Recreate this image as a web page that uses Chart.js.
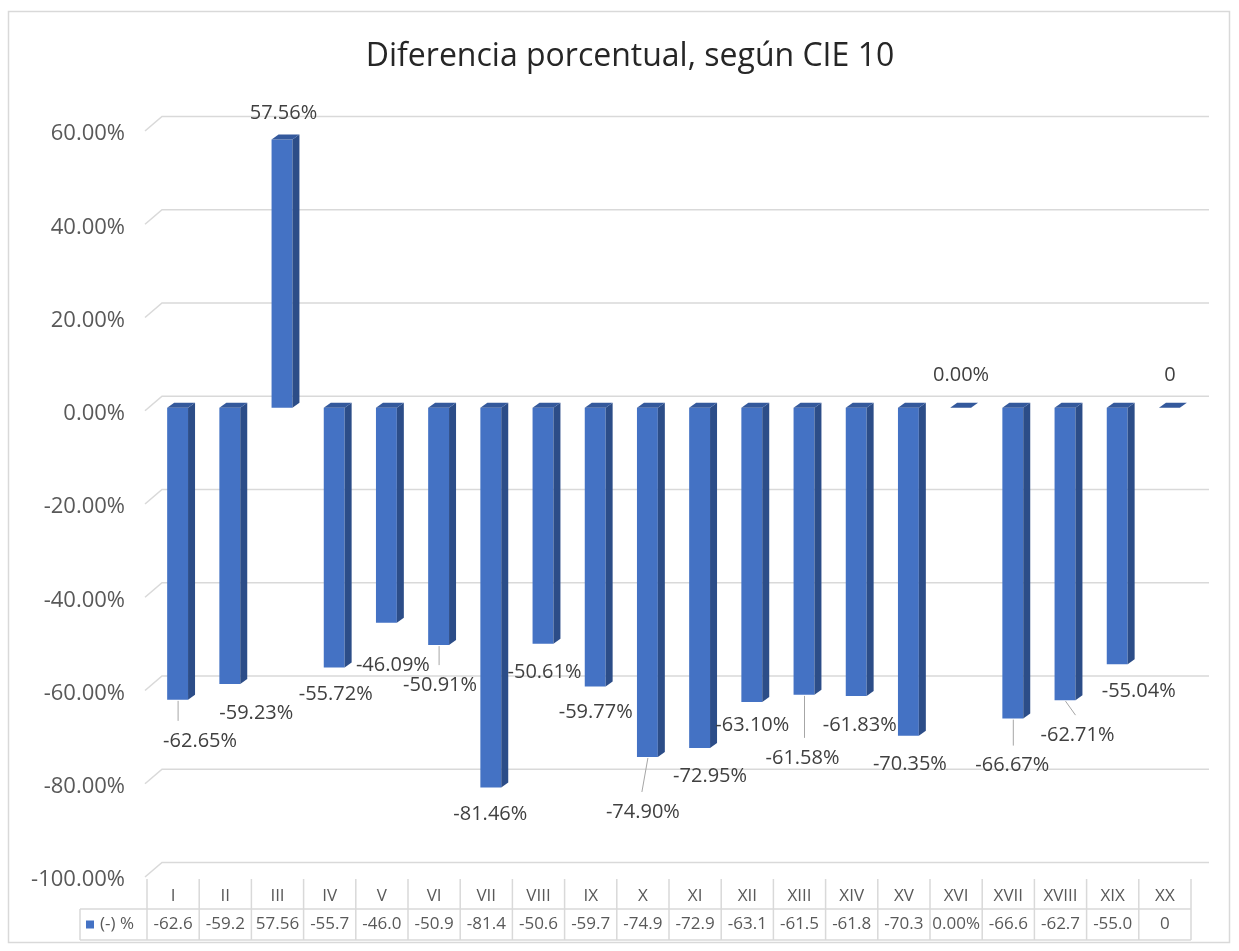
<!DOCTYPE html>
<html>
<head>
<meta charset="utf-8">
<script src="https://cdn.jsdelivr.net/npm/chart.js@4.4.1/dist/chart.umd.min.js"></script>
<style>
  html, body { margin: 0; padding: 0; background: #fff; }
</style>
</head>
<body>
<canvas id="cieChart" width="1239" height="951"></canvas>
<script>
// datos
const categorias = ["I", "II", "III", "IV", "V", "VI", "VII", "VIII", "IX", "X",
                    "XI", "XII", "XIII", "XIV", "XV", "XVI", "XVII", "XVIII", "XIX", "XX"];
const valores = [-62.65, -59.23, 57.56, -55.72, -46.09, -50.91, -81.46, -50.61, -59.77, -74.90,
                 -72.95, -63.10, -61.58, -61.83, -70.35, 0, -66.67, -62.71, -55.04, 0];
const etiquetas = ["-62.65%", "-59.23%", "57.56%", "-55.72%", "-46.09%", "-50.91%", "-81.46%", "-50.61%", "-59.77%", "-74.90%",
                   "-72.95%", "-63.10%", "-61.58%", "-61.83%", "-70.35%", "0.00%", "-66.67%", "-62.71%", "-55.04%", "0"];
const valoresTabla = ["-62.6", "-59.2", "57.56", "-55.7", "-46.0", "-50.9", "-81.4", "-50.6", "-59.7", "-74.9",
                      "-72.9", "-63.1", "-61.5", "-61.8", "-70.3", "0.00%", "-66.6", "-62.7", "-55.0", "0"];
const nombreSerie = "(-) %";
const titulo = "Diferencia porcentual, según CIE 10";

// colocacion de las etiquetas (desplazamiento respecto a la barra) y lineas guia
const posEtiquetas = [
    [27, 38, 0], [31, 26, null], [6, -29, null], [6, 24, null], [11, 40, null],
    [6, 37, 0], [4, 24, null], [6, 26, null], [5, 23, null], [0, 52, -6],
    [15, 25, null], [5, 20, null], [3, 60, 0], [8, 26, null], [6, 26, null],
    [5, -35, null], [4, 44, 0], [17, 32, 10], [26, 24, null], [5, -35, null]
];

const fuente = "'Open Sans', 'DejaVu Sans', sans-serif";
const gris = "#d9d9d9";
const prof = { dx: 7, dy: 5 };       // profundidad de cada barra
const pared = { dx: 17, dy: 14.5 };  // profundidad del fondo

const efecto3d = {
    id: "efecto3d",
    beforeDraw(chart) {
        const ctx = chart.ctx;
        ctx.save();
        ctx.fillStyle = "#fff";
        ctx.fillRect(0, 0, chart.width, chart.height);
        ctx.strokeStyle = gris;
        ctx.lineWidth = 1.5;
        ctx.strokeRect(8.5, 11.5, 1221, 931);
        // titulo
        ctx.font = "32px " + fuente;
        ctx.fillStyle = "#262626";
        ctx.textAlign = "center";
        ctx.textBaseline = "middle";
        ctx.fillText(titulo, 630, 57);
        ctx.restore();
    },
    beforeDatasetsDraw(chart) {
        const ctx = chart.ctx;
        const area = chart.chartArea;
        const y = chart.scales.y;
        ctx.save();
        ctx.strokeStyle = gris;
        ctx.lineWidth = 1.5;
        y.ticks.forEach(t => {
            const yf = y.getPixelForValue(t.value);
            ctx.beginPath();
            ctx.moveTo(area.left - 2, yf);
            ctx.lineTo(area.left - 2 + pared.dx, yf - pared.dy);
            ctx.lineTo(area.right + 18, yf - pared.dy);
            ctx.stroke();
        });
        ctx.restore();
        // las barras quedan a media profundidad
        ctx.save();
        ctx.translate(4.5, -3);
    },
    afterDatasetsDraw(chart) {
        const ctx = chart.ctx;
        const meta = chart.getDatasetMeta(0);
        meta.data.forEach(bar => {
            const p = bar.getProps(["x", "y", "base", "width"], true);
            const izq = p.x - p.width / 2, der = p.x + p.width / 2;
            const arriba = Math.min(p.y, p.base), abajo = Math.max(p.y, p.base);
            // cara lateral
            ctx.fillStyle = "#2c4d88";
            ctx.beginPath();
            ctx.moveTo(der, arriba);
            ctx.lineTo(der + prof.dx, arriba - prof.dy);
            ctx.lineTo(der + prof.dx, abajo - prof.dy);
            ctx.lineTo(der, abajo);
            ctx.closePath();
            ctx.fill();
            // cara superior
            ctx.fillStyle = "#34599c";
            ctx.beginPath();
            ctx.moveTo(izq, arriba);
            ctx.lineTo(izq + prof.dx, arriba - prof.dy);
            ctx.lineTo(der + prof.dx, arriba - prof.dy);
            ctx.lineTo(der, arriba);
            ctx.closePath();
            ctx.fill();
        });
        ctx.restore();

        // etiquetas de datos
        const x = chart.scales.x, y = chart.scales.y;
        ctx.save();
        ctx.font = "20px " + fuente;
        ctx.fillStyle = "#404040";
        ctx.textAlign = "center";
        ctx.textBaseline = "middle";
        valores.forEach((v, i) => {
            const cx = x.getPixelForValue(i);
            const py = y.getPixelForValue(v);
            const [dx, dy, guia] = posEtiquetas[i];
            const lx = cx + dx, ly = py + dy;
            if (guia !== null) {
                const sx = cx + 5;
                ctx.strokeStyle = "#a6a6a6";
                ctx.lineWidth = 1;
                ctx.beginPath();
                ctx.moveTo(sx, py - 2);
                ctx.lineTo(sx + guia, ly - 20);
                ctx.stroke();
            }
            ctx.fillText(etiquetas[i], lx, ly);
        });
        ctx.restore();
    },
    afterDraw(chart) {
        // tabla de datos bajo el grafico
        const ctx = chart.ctx;
        const area = chart.chartArea;
        const x = chart.scales.x;
        const paso = (area.right - area.left) / categorias.length;
        const yC = area.bottom + 2, yV = area.bottom + 32, yF = area.bottom + 63;
        const izqLeyenda = 80;
        ctx.save();
        ctx.strokeStyle = gris;
        ctx.lineWidth = 1.5;
        ctx.beginPath();
        for (let i = 0; i <= categorias.length; i++) {
            const bx = area.left + i * paso;
            ctx.moveTo(bx, yC);
            ctx.lineTo(bx, yF);
        }
        ctx.moveTo(izqLeyenda, yV); ctx.lineTo(area.right, yV);
        ctx.moveTo(izqLeyenda, yF); ctx.lineTo(area.right, yF);
        ctx.moveTo(izqLeyenda, yV); ctx.lineTo(izqLeyenda, yF);
        ctx.stroke();

        ctx.font = "17px " + fuente;
        ctx.fillStyle = "#595959";
        ctx.textAlign = "center";
        ctx.textBaseline = "middle";
        categorias.forEach((c, i) => {
            const cx = x.getPixelForValue(i);
            ctx.fillText(c, cx, (yC + yV) / 2 + 2);
            ctx.fillText(valoresTabla[i], cx, (yV + yF) / 2);
        });
        ctx.fillStyle = "#4472C4";
        ctx.fillRect(izqLeyenda + 6, (yV + yF) / 2 - 4, 8, 8);
        ctx.fillStyle = "#595959";
        ctx.textAlign = "left";
        ctx.fillText(nombreSerie, izqLeyenda + 20, (yV + yF) / 2);
        ctx.restore();
    }
};

const ctx = document.getElementById("cieChart").getContext("2d");
new Chart(ctx, {
    type: "bar",
    data: {
        labels: categorias,
        datasets: [{
            label: nombreSerie,
            data: valores,
            backgroundColor: "#4472C4",
            barPercentage: 0.4,
            categoryPercentage: 1,
            clip: false
        }]
    },
    options: {
        responsive: false,
        devicePixelRatio: 1,
        animation: false,
        layout: { padding: { left: 0, right: 48, top: 131, bottom: 74 } },
        plugins: {
            legend: { display: false },
            tooltip: { enabled: false },
            title: { display: false }
        },
        scales: {
            x: { display: false, offset: true },
            y: {
                min: -100,
                max: 60,
                afterFit: s => { s.width = 147; },
                ticks: {
                    stepSize: 20,
                    padding: 22,
                    labelOffset: 3,
                    color: "#595959",
                    font: { family: fuente, size: 22 },
                    callback: v => v.toFixed(2) + "%"
                },
                grid: { display: false, drawTicks: false },
                border: { display: false }
            }
        }
    },
    plugins: [efecto3d]
});
</script>
</body>
</html>
